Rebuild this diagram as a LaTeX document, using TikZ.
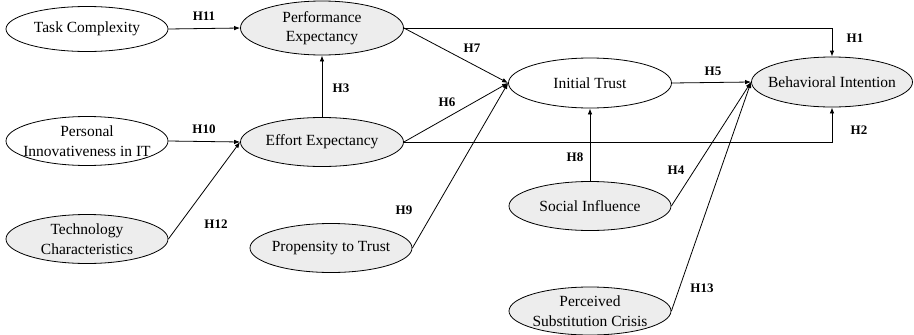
\documentclass[tikz,border=0pt]{standalone}
\usepackage{fontspec}
\setmainfont{Liberation Serif}
\usetikzlibrary{shapes.geometric,arrows.meta}
\begin{document}
\begin{tikzpicture}[x=1pt,y=-1pt,
  cons/.style={ellipse,draw=black,line width=0.8pt,inner sep=0pt,minimum width=162pt,minimum height=49pt},
  shaded/.style={cons,fill=black!7},
  plain/.style={cons,fill=white},
  ctext/.style={align=center,inner sep=0pt,font=\fontsize{15.5}{19.5}\selectfont},
  link/.style={draw=black,line width=0.8pt,-{Latex[length=6pt,width=4.5pt]}},
  hyp/.style={font=\fontsize{13}{15}\selectfont\bfseries,inner sep=0pt}]
\useasboundingbox (0,0) rectangle (914,335);
% constructs
\node[plain,minimum height=45pt] (tc) at (87,29) {};
\node[ctext] (tc-t) at (tc.center) {Task Complexity};
\node[shaded,minimum width=163pt,minimum height=54pt] (pe) at (322,28) {};
\node[ctext] (pe-t) at (pe.center) {Performance\\Expectancy};
\node[plain] (pii) at (87,141) {};
\node[ctext] (pii-t) at (pii.center) {Personal\\Innovativeness in IT};
\node[shaded,minimum width=163pt] (ee) at (322,142) {};
\node[ctext] (ee-t) at (ee.center) {Effort Expectancy};
\node[shaded] (tch) at (87,239) {};
\node[ctext] (tch-t) at (tch.center) {Technology\\Characteristics};
\node[shaded] (pt) at (331,248) {};
\node[ctext] (pt-t) at (pt.center) {Propensity to Trust};
\node[plain,minimum width=163pt,minimum height=50pt] (it) at (590,83) {};
\node[ctext] (it-t) at (it.center) {Initial Trust};
\node[shaded,minimum width=161pt,minimum height=50pt] (bi) at (832,82) {};
\node[ctext] (bi-t) at (bi.center) {Behavioral Intention};
\node[shaded] (si) at (590,206) {};
\node[ctext] (si-t) at (si.center) {Social Influence};
\node[shaded,minimum height=48pt] (psc) at (590,311) {};
\node[ctext] (psc-t) at (psc.center) {Perceived\\Substitution Crisis};
% paths
\draw[link] (tc.east) -- (pe.west);
\draw[link] (pe.east) -| (bi.north);
\draw[link] (pe.east) -- (it.west);
\draw[link] (ee.north) -- (pe.south);
\draw[link] (ee.east) -- (it.west);
\draw[link] (ee.east) -| (bi.south);
\draw[link] (pii.east) -- (ee.west);
\draw[link] (tch.east) -- (ee.west);
\draw[link] (pt.east) -- (it.west);
\draw[link] (si.north) -- (it.south);
\draw[link] (it.east) -- (bi.west);
\draw[link] (si.east) -- (bi.west);
\draw[link] (psc.east) -- (bi.west);
% labels
\node[hyp] (h11) at (204,16) {H11};
\node[hyp] (h1) at (855,38) {H1};
\node[hyp] (h7) at (472,48) {H7};
\node[hyp] (h3) at (341,88) {H3};
\node[hyp] (h6) at (447,102) {H6};
\node[hyp] (h10) at (204,129) {H10};
\node[hyp] (h2) at (859,130) {H2};
\node[hyp] (h5) at (713,71) {H5};
\node[hyp] (h8) at (575,157) {H8};
\node[hyp] (h4) at (676,170) {H4};
\node[hyp] (h12) at (216,224) {H12};
\node[hyp] (h9) at (404,210) {H9};
\node[hyp] (h13) at (702,288) {H13};
\end{tikzpicture}
\end{document}
